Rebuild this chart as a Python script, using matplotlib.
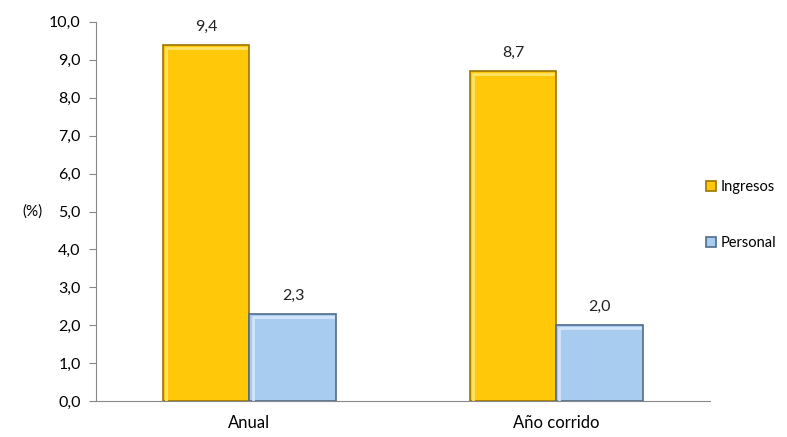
import matplotlib.pyplot as plt
import numpy as np

# data
categories = ["Anual", "Año corrido"]
ingresos = [9.4, 8.7]
personal = [2.3, 2.0]
series_names = ["Ingresos", "Personal"]

plt.rcParams['font.family'] = ['Lato', 'DejaVu Sans']

fig = plt.figure(figsize=(7.87, 4.37), dpi=100)
ax = fig.add_axes([0.122, 0.082, 0.78, 0.868])

x = np.arange(len(categories))
w = 0.283

#generate bars
gold = ax.bar(x - w / 2, ingresos, w, color="#FFC90A", edgecolor="#9C7600",
              linewidth=1.2, label=series_names[0], zorder=3)
blue = ax.bar(x + w / 2, personal, w, color="#A8CBF0", edgecolor="#506C8A",
              linewidth=1.2, label=series_names[1], zorder=3)

# light bevel highlight on top/left of bars
for bars, hl in ((gold, "#FFE36A"), (blue, "#D4E7FA")):
    for b in bars:
        bx, bw, bh = b.get_x(), b.get_width(), b.get_height()
        ax.plot([bx + 0.01, bx + 0.01, bx + bw - 0.01], [0.05, bh - 0.08, bh - 0.08],
                color=hl, linewidth=2, zorder=4)

#label bars with values
for bars, vals in ((gold, ingresos), (blue, personal)):
    ax.bar_label(bars, labels=[f"{v:.1f}".replace(".", ",") for v in vals],
                 padding=8, fontsize=11.5, color="#222222")

ax.set_xlim(-0.5, 1.5)
ax.set_ylim(0, 10)
ax.set_yticks(np.arange(0, 11, 1))
ax.set_yticklabels([f"{v:.1f}".replace(".", ",") for v in np.arange(0, 11, 1)])
ax.set_xticks(x)
ax.set_xticklabels(categories)
ax.tick_params(axis='y', direction='out', length=5, color="#888888", labelsize=11.5, pad=6)
ax.tick_params(axis='x', length=0, labelsize=12, pad=10)
for s in ("top", "right"):
    ax.spines[s].set_visible(False)
for s in ("left", "bottom"):
    ax.spines[s].set_color("#888888")
ax.set_ylabel("(%)", rotation=0, fontsize=11, labelpad=12, va="center")

fig.legend(handles=[gold, blue], loc="center left", bbox_to_anchor=(0.88, 0.508),
           frameon=False, fontsize=10.5, handlelength=0.7, handleheight=0.7,
           handletextpad=0.3, labelspacing=2.9)

plt.savefig("out.png", dpi=100)
